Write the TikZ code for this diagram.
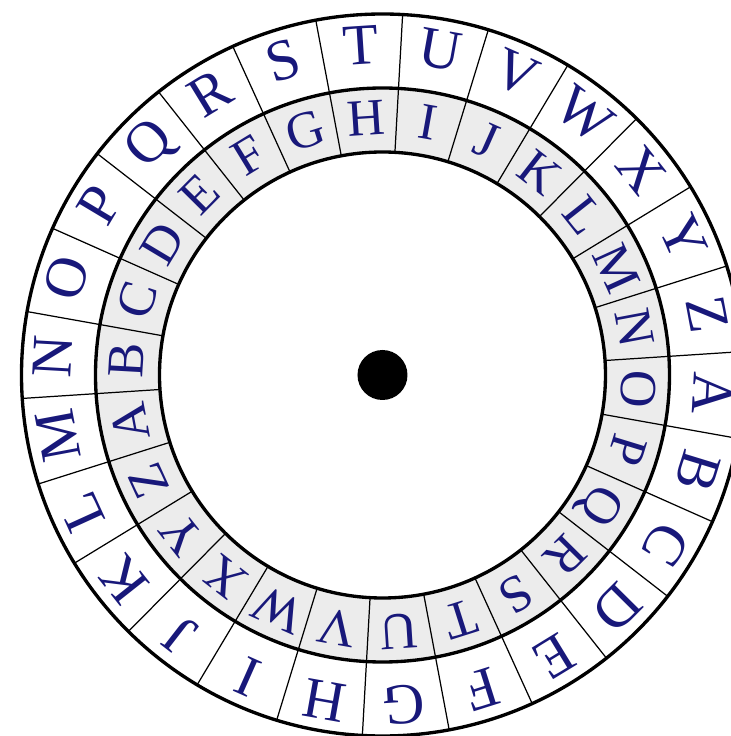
\documentclass[tikz,border=0pt]{standalone}
\usepackage{fontspec}
\setmainfont{Liberation Serif}
\usepackage{tikz}
\definecolor{inkblue}{RGB}{24,24,122}
\definecolor{ringgray}{RGB}{236,236,236}

\tikzset{
  ring/.style={line width=0.95pt},
  spoke/.style={line width=0.35pt},
  wheelletter/.style={text=inkblue, inner sep=0pt, text height=10.6pt, text depth=0pt},
  outerletter/.style={wheelletter, font=\fontsize{16.5}{18}\selectfont},
  innerletter/.style={wheelletter, font=\fontsize{14.8}{17}\selectfont, text height=9.8pt},
}

\begin{document}
\begin{tikzpicture}
\useasboundingbox (-3.825,-3.61) rectangle (3.485,3.75);
\begin{scope}
\clip (-3.825,-3.61) rectangle (3.485,3.75);
% grey band of the inner disc
\fill[ringgray, even odd rule] (0,0) circle (2.87) (0,0) circle (2.23);
% cell borders
\foreach \k in {0,...,25}{
  \pgfmathsetmacro{\b}{-3.2-6.923-\k*13.846}
  \draw[spoke] (\b:2.23) -- (\b:3.61);
}
\draw[ring] (0,0) circle (3.61) (0,0) circle (2.87) (0,0) circle (2.23);
% outer alphabet
\foreach \ch [count=\k from 0] in {A,B,C,D,E,F,G,H,I,J,K,L,M,N,O,P,Q,R,S,T,U,V,W,X,Y,Z}{
  \pgfmathsetmacro{\a}{-3.2-\k*13.846}
  \node[outerletter, rotate=\a-90] (outer-\k) at (\a:3.30) {\ch};
}
% inner alphabet, turned by twelve places
\foreach \ch [count=\k from 0] in {A,B,C,D,E,F,G,H,I,J,K,L,M,N,O,P,Q,R,S,T,U,V,W,X,Y,Z}{
  \pgfmathsetmacro{\a}{-3.2-(\k+12)*13.846}
  \node[innerletter, rotate=\a-90] (inner-\k) at (\a:2.57) {\ch};
}
\node[circle, fill=black, inner sep=0pt, minimum size=5mm] (hub) at (0,0) {};
\end{scope}
\end{tikzpicture}
\end{document}
